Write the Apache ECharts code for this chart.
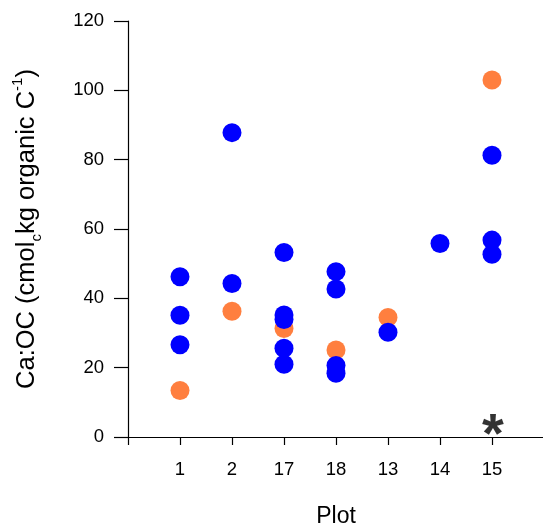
<!DOCTYPE html>
<html>
<head>
<meta charset="utf-8">
<script src="https://cdn.jsdelivr.net/npm/echarts@6/dist/echarts.min.js"></script>
<style>html,body{margin:0;padding:0;background:#fff;}#c{width:543px;height:530px;}</style>
</head>
<body>
<div id="c"></div>
<script>
const plots = ['1', '2', '17', '18', '13', '14', '15'];
// blue points: [plot index (1-based), value]
const bluePlot = [1, 1, 1, 2, 2, 3, 3, 3, 3, 3, 4, 4, 4, 4, 5, 6, 7, 7, 7];
const blueVal  = [46.2, 35.1, 26.6, 87.8, 44.3, 53.2, 35.2, 33.9, 25.6, 21.0, 47.7, 42.7, 20.6, 18.4, 30.2, 55.8, 81.3, 56.8, 52.7];
const orangePlot = [1, 2, 3, 4, 5, 7];
const orangeVal  = [13.4, 36.3, 31.3, 25.1, 34.5, 103.0];
const yTicks = [0, 20, 40, 60, 80, 100, 120];
const starPlot = 7;
const starLabel = '*';

const chart = echarts.init(document.getElementById('c'), null, {renderer: 'canvas'});
const font = 'Liberation Sans, Arial, sans-serif';
chart.setOption({
  animation: false,
  grid: {left: 128, top: 21, right: -1, bottom: 93, containLabel: false, outerBoundsMode: 'none'},
  xAxis: {
    type: 'value', min: 0, max: 8, interval: 1,
    name: 'Plot', nameLocation: 'middle', nameGap: 68,
    nameTextStyle: {fontFamily: font, fontSize: 23, color: '#000'},
    axisLine: {show: true, onZero: false, lineStyle: {color: '#000', width: 1.2}},
    axisTick: {show: true, length: 8, lineStyle: {color: '#000', width: 1.2}},
    axisLabel: {
      fontFamily: font, fontSize: 18.5, color: '#000', margin: 23,
      formatter: v => (v >= 1 && v <= plots.length) ? plots[v - 1] : ''
    },
    splitLine: {show: false}
  },
  yAxis: {
    type: 'value', min: yTicks[0], max: yTicks[yTicks.length - 1], interval: 20,
    name: '{n|Ca:OC (cmol}{sub|c}{n|kg organic C}{sup|-1}{n|)}',
    nameLocation: 'middle', nameGap: 84, nameRotate: 90,
    nameTextStyle: {
      fontFamily: font, fontSize: 25.5, color: '#000',
      rich: {
        n: {fontFamily: font, fontSize: 25.5, color: '#000', lineHeight: 34, verticalAlign: 'middle'},
        sub: {fontFamily: font, fontSize: 15, color: '#000', lineHeight: 34, verticalAlign: 'bottom'},
        sup: {fontFamily: font, fontSize: 15, color: '#000', lineHeight: 34, verticalAlign: 'top'}
      }
    },
    axisLine: {show: true, lineStyle: {color: '#000', width: 1.2}},
    axisTick: {show: true, length: 14, lineStyle: {color: '#000', width: 1.2}},
    axisLabel: {fontFamily: font, fontSize: 18.5, color: '#000', margin: 24},
    splitLine: {show: false}
  },
  series: [
    {
      type: 'scatter', symbol: 'circle', symbolSize: 19,
      itemStyle: {color: '#FF7F3F', opacity: 1},
      data: orangePlot.map((p, i) => [p, orangeVal[i]]), z: 2
    },
    {
      type: 'scatter', symbol: 'circle', symbolSize: 19,
      itemStyle: {color: '#0000FF', opacity: 1},
      data: bluePlot.map((p, i) => [p, blueVal[i]]), z: 3
    },
    {
      type: 'scatter', symbolSize: 0, silent: true,
      itemStyle: {color: '#000'},
      data: [[starPlot, 0]], z: 4,
      label: {
        show: true, formatter: starLabel, position: 'inside',
        fontFamily: font, fontSize: 56, fontWeight: 'bold', color: '#000',
        textBorderWidth: 0, offset: [1, 0]
      }
    }
  ]
});
</script>
</body>
</html>
